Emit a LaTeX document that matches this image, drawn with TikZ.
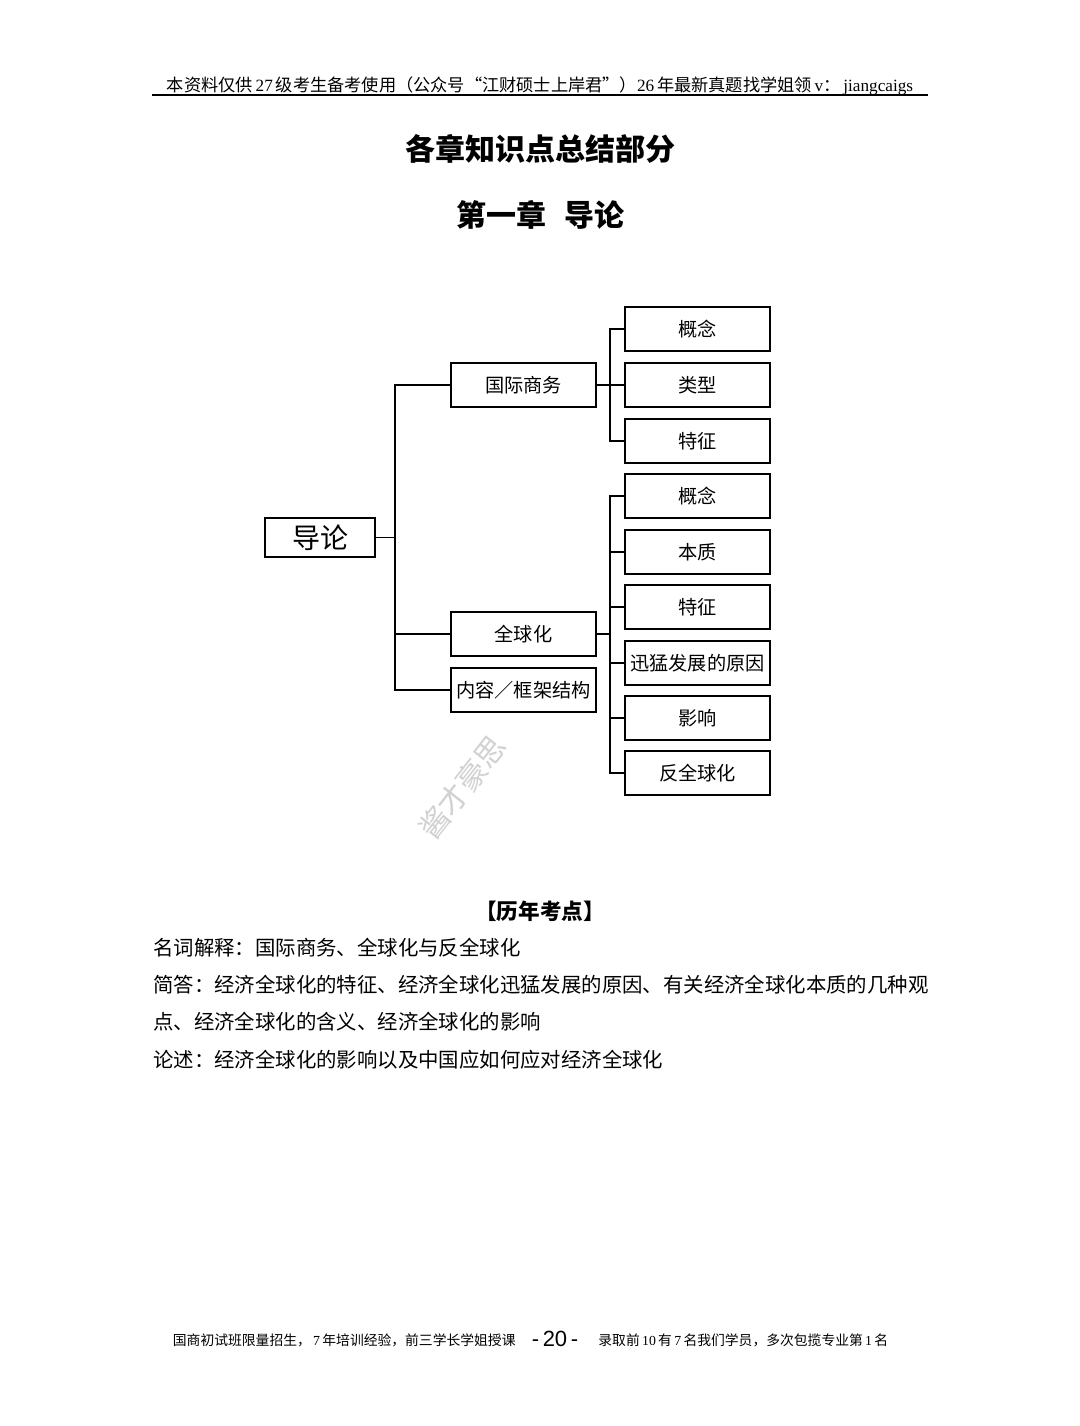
\documentclass[tikz,border=0pt]{standalone}
\usepackage{fontspec}
\setmainfont{Liberation Serif}
\newfontfamily\cjk{Noto Sans CJK SC}
\begin{document}
\begin{tikzpicture}[x=0.5pt,y=-0.5pt,
  box/.style={draw=black,line width=0.9pt,fill=white,minimum width=72.5pt,minimum height=22pt,inner sep=0pt,font=\cjk\fontsize{9.6}{11}\selectfont},
  rootbox/.style={box,minimum width=55pt,minimum height=19.5pt,font=\cjk\fontsize{14}{16}\selectfont},
  conn/.style={line width=0.9pt,line cap=rect},
  bodytext/.style={anchor=west,inner sep=0pt,font=\cjk\fontsize{10.2}{12}\selectfont},
  foot/.style={inner sep=0pt,font=\cjk\fontsize{6.9}{8}\selectfont}]
\useasboundingbox[fill=white] (0,0) rectangle (1080,1426);
% header
\node[inner sep=0pt,anchor=base] (hdr) at (540,91) {\fontsize{8.6}{10}\selectfont{\cjk 本资料仅供}\,27\,{\cjk 级考生备考使用（公众号“江财硕士上岸君”）}26\,{\cjk 年最新真题找学姐领}\,v{\cjk ：}\,jiangcaigs};
\coordinate (hl) at (152,95);
\coordinate (hr) at (928,95);
\draw[line width=0.6pt] (hl) -- (hr);
% titles
\node[inner sep=0pt,font=\cjk\bfseries\fontsize{15}{18}\selectfont] (t1) at (540,149) {各章知识点总结部分};
\node[inner sep=0pt,font=\cjk\bfseries\fontsize{15}{18}\selectfont] (t2) at (540,215) {第一章\hspace{0.6em}导论};
% watermark
\node[rotate=52,text=black!18,inner sep=0pt,anchor=west,font=\cjk\fontsize{15}{18}\selectfont] (wm) at (425,835) {酱才豪思};
% diagram
\node[rootbox] (root) at (320,537.5) {导论};
\node[box] (ib) at (523.5,385) {国际商务};
\node[box] (glob) at (523.5,634) {全球化};
\node[box] (cont) at (523.5,690) {内容／框架结构};
\node[box] (a1) at (697.5,329) {概念};
\node[box] (a2) at (697.5,385) {类型};
\node[box] (a3) at (697.5,441) {特征};
\node[box] (b1) at (697.5,496) {概念};
\node[box] (b2) at (697.5,552) {本质};
\node[box] (b3) at (697.5,607) {特征};
\node[box] (b4) at (697.5,663) {迅猛发展的原因};
\node[box] (b5) at (697.5,718) {影响};
\node[box] (b6) at (697.5,773) {反全球化};
\coordinate (tr1) at (395,537.5);
\coordinate (tr2) at (610,0);
\draw[conn] (root.east) -- (tr1);
\draw[conn] (tr1 |- ib.west) -- (tr1 |- cont.west);
\foreach \n in {ib,glob,cont} \draw[conn] (tr1 |- \n.west) -- (\n.west);
\draw[conn] (ib.east) -- (tr2 |- ib.east);
\draw[conn] (tr2 |- a1.west) -- (tr2 |- a3.west);
\foreach \n in {a1,a2,a3} \draw[conn] (tr2 |- \n.west) -- (\n.west);
\draw[conn] (glob.east) -- (tr2 |- glob.east);
\draw[conn] (tr2 |- b1.west) -- (tr2 |- b6.west);
\foreach \n in {b1,b2,b3,b4,b5,b6} \draw[conn] (tr2 |- \n.west) -- (\n.west);
% past exam points
\node[inner sep=0pt,font=\cjk\bfseries\fontsize{10.8}{13}\selectfont] (kd) at (540,911) {【历年考点】};
\node[bodytext] (l1) at (153,948) {名词解释：国际商务、全球化与反全球化};
\node[bodytext] (l2) at (153,985) {简答：经济全球化的特征、经济全球化迅猛发展的原因、有关经济全球化本质的几种观};
\node[bodytext] (l3) at (153,1022) {点、经济全球化的含义、经济全球化的影响};
\node[bodytext] (l4) at (153,1060) {论述：经济全球化的影响以及中国应如何应对经济全球化};
% footer
\node[foot,anchor=east] (fl) at (516,1340) {国商初试班限量招生，{\rmfamily\,7\,}年培训经验，前三学长学姐授课};
\node[inner sep=0pt,font=\fontsize{11}{13}\selectfont] (pg) at (555,1339) {\fontspec{Liberation Sans}-\,20\,-};
\node[foot,anchor=west] (fr) at (598,1340) {录取前{\rmfamily\,10\,}有{\rmfamily\,7\,}名我们学员，多次包揽专业第{\rmfamily\,1\,}名};
\end{tikzpicture}
\end{document}
